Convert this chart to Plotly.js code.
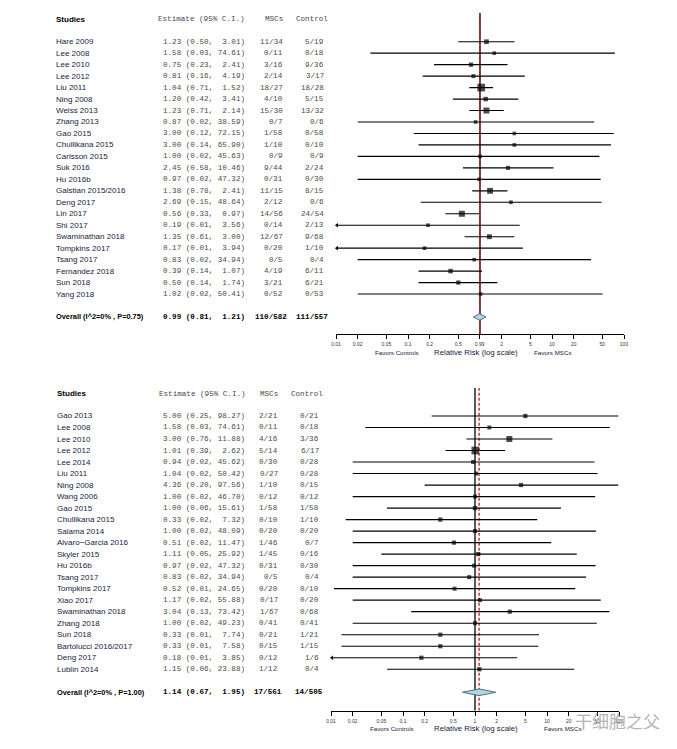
<!DOCTYPE html>
<html><head><meta charset="utf-8">
<script src="https://cdn.plot.ly/plotly-3.0.1.min.js"></script>
<style>html,body{margin:0;padding:0;background:#fff}#chart{width:677px;height:749px}</style>
</head><body><div id="chart"></div>
<script>
// ---------- DATA: top panel ----------
const topStudies = ["Hare 2009","Lee 2008","Lee 2010","Lee 2012","Liu 2011","Ning 2008","Weiss 2013","Zhang 2013","Gao 2015","Chullikana 2015","Carlsson 2015","Suk 2016","Hu 2016b","Galstian 2015/2016","Deng 2017","Lin 2017","Shi 2017","Swaminathan 2018","Tompkins 2017","Tsang 2017","Fernandez 2018","Sun 2018","Yang 2018"];
const topEst = [1.23,1.58,0.75,0.81,1.04,1.20,1.23,0.87,3.00,3.00,1.00,2.45,0.97,1.38,2.69,0.56,0.19,1.35,0.17,0.83,0.39,0.50,1.02];
const topLo  = [0.50,0.03,0.23,0.16,0.71,0.42,0.71,0.02,0.12,0.14,0.02,0.58,0.02,0.78,0.15,0.33,0.008,0.61,0.007,0.02,0.14,0.14,0.02];
const topHi  = [3.01,74.61,2.41,4.19,1.52,3.41,2.14,38.59,72.15,65.90,45.63,10.46,47.32,2.41,48.64,0.97,3.56,3.00,3.94,34.94,1.07,1.74,50.41];
const topMscEv  = [11,0,3,2,18,4,15,0,1,1,0,9,0,11,2,14,0,12,0,0,4,3,0];
const topMscN   = [34,11,16,14,27,10,30,7,58,10,9,44,31,15,12,56,14,67,20,5,19,21,52];
const topCtlEv  = [5,0,9,3,18,5,13,0,0,0,0,2,0,8,0,24,2,9,1,0,6,6,0];
const topCtlN   = [19,18,36,17,28,15,32,6,58,10,9,24,30,15,6,54,13,68,10,4,11,21,53];
const topOverallLabel = "Overall (I^2=0% , P=0.75)";
const topOverall = {est:0.99, lo:0.81, hi:1.21, mscEv:110, mscN:582, ctlEv:111, ctlN:557};
const topTickVals = [0.01,0.02,0.05,0.1,0.2,0.5,0.99,2,5,10,20,50,100];
const topTickText = ["0.01","0.02","0.05","0.1","0.2","0.5","0.99","2","5","10","20","50","100"];

// ---------- DATA: bottom panel ----------
const botStudies = ["Gao 2013","Lee 2008","Lee 2010","Lee 2012","Lee 2014","Liu 2011","Ning 2008","Wang 2006","Gao 2015","Chullikana 2015","Salama 2014","Alvaro\u2212Garcia 2016","Skyler 2015","Hu 2016b","Tsang 2017","Tompkins 2017","Xiao 2017","Swaminathan 2018","Zhang 2018","Sun 2018","Bartolucci 2016/2017","Deng 2017","Lublin 2014"];
const botEst = [5.00,1.58,3.00,1.01,0.94,1.04,4.36,1.00,1.00,0.33,1.00,0.51,1.11,0.97,0.83,0.52,1.17,3.04,1.00,0.33,0.33,0.18,1.15];
const botLo  = [0.25,0.03,0.76,0.39,0.02,0.02,0.20,0.02,0.06,0.016,0.02,0.02,0.05,0.02,0.02,0.011,0.02,0.13,0.02,0.014,0.014,0.008,0.06];
const botHi  = [98.27,74.61,11.88,2.62,45.62,50.42,97.56,46.70,15.61,7.32,48.09,11.47,25.92,47.32,34.94,24.65,55.88,73.42,49.23,7.74,7.58,3.85,23.88];
const botMscEv = [2,0,4,5,0,0,1,0,1,0,0,1,1,0,0,0,0,1,0,0,0,0,1];
const botMscN  = [21,11,16,14,30,27,10,12,58,10,20,46,45,31,5,20,17,67,41,21,15,12,12];
const botCtlEv = [0,0,3,6,0,0,0,0,1,1,0,0,0,0,0,0,0,0,0,1,1,1,0];
const botCtlN  = [21,18,36,17,28,28,15,12,58,10,20,7,16,30,4,10,20,68,41,21,15,6,4];
const botOverallLabel = "Overall (I^2=0% , P=1.00)";
const botOverall = {est:1.14, lo:0.67, hi:1.95, mscEv:17, mscN:561, ctlEv:14, ctlN:505};
const botTickVals = [0.01,0.02,0.05,0.1,0.2,0.5,1,2,5,10,20,50,100];
const botTickText = ["0.01","0.02","0.05","0.1","0.2","0.5","1","2","5","10","20","50","100"];

const axisTitle = "Relative Risk (log scale)";
const favorsLeft = "Favors Controls";
const favorsRight = "Favors MSCs";
const headers = ["Studies","Estimate (95% C.I.)","MSCs","Control"];
const watermark = "干细胞之父";

// ---------- BUILD ----------
const W = 677, H = 749;
const px = v => v / W;
const py = v => 1 - v / H;
const NB = '\u00a0';
const mono = "Liberation Mono, Courier New, monospace";
const sans = "Liberation Sans, Arial, sans-serif";
const nameColor = '#1a1a40';
const estColor = '#4a4a4a';

function fmtCI(e, l, h) {
  return (e.toFixed(2) + ' (' + l.toFixed(2) + ', ' + h.toFixed(2).padStart(5, ' ') + ')').replace(/ /g, NB);
}

const traces = [];
const annotations = [];

function panel(cfg) {
  const {studies, est, lo, hi, mEv, mN, cEv, cN, ovLabel, ov, xa, ya, yr, pos} = cfg;
  // vertical reference lines
  traces.push({x:[1,1], y:[yr[0], yr[1]], xaxis:xa, yaxis:ya, mode:'lines',
    line:{color:'#000', width:1.3}, hoverinfo:'skip'});
  traces.push({x:[ov.est, ov.est], y:[yr[0], yr[1]], xaxis:xa, yaxis:ya, mode:'lines',
    line:{color:'#cc1111', width:1.3, dash:'3px,2px'}, hoverinfo:'skip'});
  // CI lines
  const lx = [], ly = [], ax = [], ay = [];
  studies.forEach((s, i) => {
    lx.push(Math.max(lo[i], 0.01), hi[i], null);
    ly.push(i, i, null);
    if (lo[i] < 0.01) { ax.push(0.0103); ay.push(i); }
  });
  traces.push({x:lx, y:ly, xaxis:xa, yaxis:ya, mode:'lines', line:{color:'#000', width:1.15}, hoverinfo:'skip'});
  if (ax.length) traces.push({x:ax, y:ay, xaxis:xa, yaxis:ya, mode:'markers', cliponaxis:false,
    marker:{symbol:'triangle-left', size:4, color:'#000'}, hoverinfo:'skip'});
  // box sizes from inverse-variance weights
  const w = studies.map((s, i) => { const se = (Math.log(hi[i]) - Math.log(lo[i])) / (2 * 1.96); return 1 / (se * se); });
  const wmax = Math.max(...w);
  const sizes = w.map(v => 3.4 + 4.3 * Math.pow(v / wmax, 0.7));
  traces.push({x:est, y:studies.map((s, i) => i), xaxis:xa, yaxis:ya, mode:'markers', cliponaxis:false,
    marker:{symbol:'square', size:sizes, color:'#000', line:{width:0}}, hoverinfo:'skip'});
  // diamond
  const n = studies.length + 1, hh = 0.29;
  traces.push({x:[ov.lo, ov.est, ov.hi, ov.est, ov.lo], y:[n, n - hh, n, n + hh, n], xaxis:xa, yaxis:ya,
    mode:'lines', fill:'toself', fillcolor:'#acd8e6', line:{color:'#556b78', width:1}, hoverinfo:'skip'});

  const yref = ya;
  const hy = pos.headY;
  const A = (text, x, y, yr2, xanchor, font) => annotations.push({text, x:px(x), xref:'paper', y, yref:yr2, xanchor,
    yanchor:'middle', showarrow:false, borderpad:0, font});
  const fMono = {family:mono, size:7.6, color:estColor};
  const fMonoB = {family:mono, size:7.6, color:'#000'};
  // header
  A('<b>' + headers[0] + '</b>', pos.name, hy, yref, 'left', {family:sans, size:8, color:'#000'});
  A(headers[1].replace(/ /g, NB), pos.headEst, hy, yref, 'left', fMono);
  A(headers[2], pos.headMsc, hy, yref, 'right', fMono);
  A(headers[3], pos.headCtl, hy, yref, 'right', fMono);
  // rows
  studies.forEach((s, i) => {
    A(s, pos.name, i, yref, 'left', {family:sans, size:8, color:nameColor});
    A(fmtCI(est[i], lo[i], hi[i]), pos.est, i, yref, 'left', fMono);
    A(mEv[i] + '/' + mN[i], pos.msc, i, yref, 'right', fMono);
    A(cEv[i] + '/' + cN[i], pos.ctl, i, yref, 'right', fMono);
  });
  // overall row
  A('<b>' + ovLabel + '</b>', pos.name, n, yref, 'left', {family:sans, size:7.4, color:'#000'});
  A('<b>' + fmtCI(ov.est, ov.lo, ov.hi) + '</b>', pos.est, n, yref, 'left', fMonoB);
  A('<b>' + ov.mscEv + '/' + ov.mscN + '</b>', pos.ovMsc, n, yref, 'right', fMonoB);
  A('<b>' + ov.ctlEv + '/' + ov.ctlN + '</b>', pos.ovCtl, n, yref, 'right', fMonoB);
  // axis captions
  A(favorsLeft, pos.favL, py(pos.capY), 'paper', 'center', {family:sans, size:6.2, color:nameColor});
  A(axisTitle, pos.axT, py(pos.capY), 'paper', 'center', {family:sans, size:7.8, color:nameColor});
  A(favorsRight, pos.favR, py(pos.capY), 'paper', 'center', {family:sans, size:6.2, color:nameColor});
}

const topYR = [25.51, -2.53];
const botYR = [25.6, -2.43];

panel({studies:topStudies, est:topEst, lo:topLo, hi:topHi, mEv:topMscEv, mN:topMscN, cEv:topCtlEv, cN:topCtlN,
  ovLabel:topOverallLabel, ov:topOverall, xa:'x', ya:'y', yr:topYR,
  pos:{name:55, est:161.5, msc:284, ctl:324.5, ovMsc:288, ovCtl:328.5, headY:-1.98, headEst:157, headMsc:283.5, headCtl:328.5,
       favL:397, axT:476, favR:552, capY:352.5}});
panel({studies:botStudies, est:botEst, lo:botLo, hi:botHi, mEv:botMscEv, mN:botMscN, cEv:botCtlEv, cN:botCtlN,
  ovLabel:botOverallLabel, ov:botOverall, xa:'x2', ya:'y2', yr:botYR,
  pos:{name:55.5, est:162, msc:278.5, ctl:319.5, ovMsc:283, ovCtl:323.5, headY:-1.91, headEst:158, headMsc:278.5, headCtl:323.5,
       favL:392, axT:476, favR:562, capY:728.5}});

annotations.push({text:watermark, x:px(574), xref:'paper', y:py(720), yref:'paper', xanchor:'left', yanchor:'middle',
  showarrow:false, borderpad:0, font:{family:'Noto Sans CJK SC', size:17, color:'#b4b4b4'}});

function xAxis(domain, tv, tt, anchor) {
  return {type:'log', domain, range:[-2, 2], anchor, tickmode:'array', tickvals:tv, ticktext:tt,
    ticks:'outside', ticklen:4, tickwidth:1, tickcolor:'#000', showline:true, linecolor:'#000', linewidth:1,
    showgrid:false, zeroline:false, ticklabelstandoff:1, tickfont:{family:sans, size:5, color:'#333'}, fixedrange:true};
}

const layout = {
  width:W, height:H, margin:{l:0, r:0, t:0, b:0}, paper_bgcolor:'#fff', plot_bgcolor:'rgba(0,0,0,0)',
  showlegend:false,
  xaxis: xAxis([336/W, 624/W], topTickVals, topTickText, 'y'),
  yaxis: {domain:[1 - 334.3/H, 1 - 12.7/H], range:topYR, visible:false, anchor:'x', fixedrange:true},
  xaxis2: xAxis([331/W, 619/W], botTickVals, botTickText, 'y2'),
  yaxis2: {domain:[1 - 710.7/H, 1 - 388/H], range:botYR, visible:false, anchor:'x2', fixedrange:true},
  annotations
};

Plotly.newPlot('chart', traces, layout, {staticPlot:true, displayModeBar:false});
</script>
</body></html>
